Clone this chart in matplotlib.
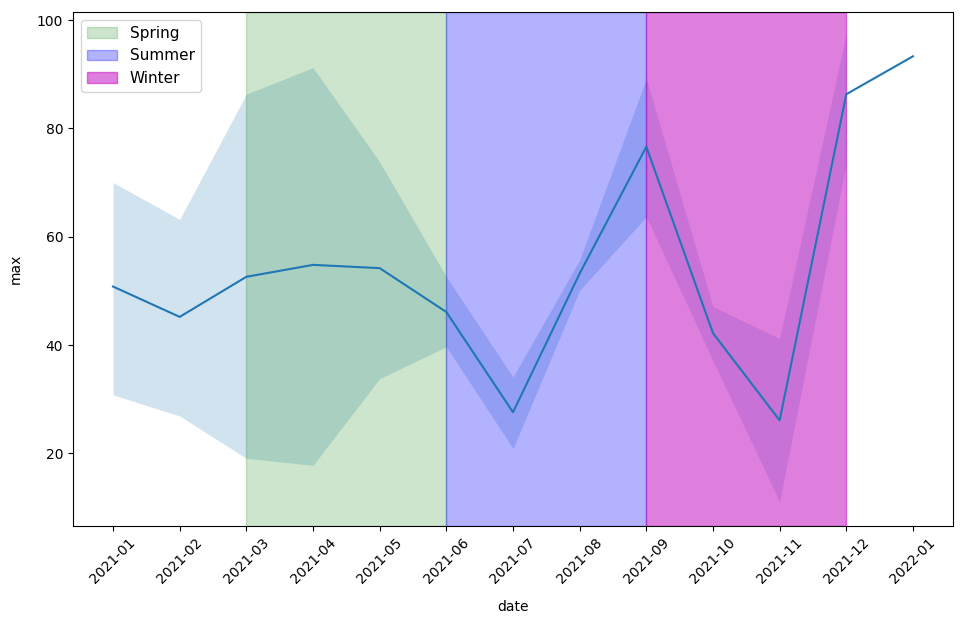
import numpy as np
import matplotlib
matplotlib.use('Agg')
import matplotlib.pyplot as plt

#==============================================================================
# DATA (monthly max, mean and 95% CI band)
#==============================================================================

months = ['2021-01', '2021-02', '2021-03', '2021-04', '2021-05', '2021-06',
          '2021-07', '2021-08', '2021-09', '2021-10', '2021-11', '2021-12',
          '2022-01']
max_mean = [50.8, 45.2, 52.6, 54.8, 54.2, 46.1, 27.6, 53.2, 76.6, 42.2, 26.1, 86.3, 93.3]
ci_upper = [70.0, 63.2, 86.3, 91.2, 73.8, 52.6, 34.1, 55.7, 89.2, 47.1, 41.2, 97.5, np.nan]
ci_lower = [30.8, 26.9, 19.1, 17.8, 33.8, 39.7, 20.9, 50.1, 63.7, 37.1, 11.1, 73.5, np.nan]

seasons = ['Spring', 'Summer', 'Winter']
season_start = ['2021-03', '2021-06', '2021-09']
season_end = ['2021-06', '2021-09', '2021-12']
season_colors = ['green', 'blue', 'm']
season_alpha = [0.2, 0.3, 0.5]

#==============================================================================
# PLOT
#==============================================================================

x = np.arange(len(months))

fig = plt.figure(figsize=(9.66, 6.25), dpi=100)
ax = fig.add_axes([0.0756, 0.1584, 0.9109, 0.8226])

ax.fill_between(x, ci_lower, ci_upper, color='#1f77b4', alpha=0.2, linewidth=0)
ax.plot(x, max_mean, color='#1f77b4', linewidth=1.5)

for name, start, end, col, a in zip(seasons, season_start, season_end, season_colors, season_alpha):
    ax.axvspan(months.index(start), months.index(end), color=col, alpha=a, label=name)

ax.set_ylim(6.6, 101.5)
ax.set_xticks(x)
ax.set_xticklabels(months, rotation=45)
ax.set_xlabel('date', labelpad=10)
ax.set_ylabel('max', labelpad=10)
ax.legend(loc='upper left', fontsize=11)

plt.savefig('out.png', dpi=100)
plt.close()
